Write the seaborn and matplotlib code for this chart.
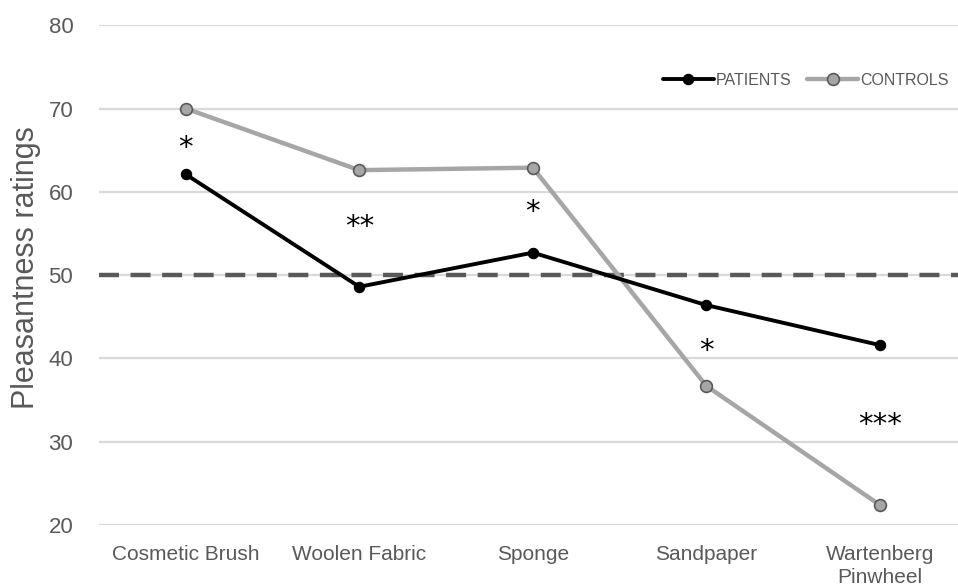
import matplotlib
matplotlib.use("Agg")
import matplotlib.pyplot as plt
import seaborn as sns
import pandas as pd

categories = ["Cosmetic Brush", "Woolen Fabric", "Sponge", "Sandpaper", "Wartenberg\nPinwheel"]
patients = [62.1, 48.6, 52.7, 46.4, 41.6]
controls = [70.0, 62.6, 62.9, 36.7, 22.4]
stars = ["*", "**", "*", "*", "***"]
star_y = [65.2, 55.8, 57.6, 40.9, 32.0]
y_ticks = [20, 30, 40, 50, 60, 70, 80]

sns.set_theme(style="white")
plt.rcParams["font.family"] = ["Liberation Sans", "DejaVu Sans"]

df = pd.DataFrame({
    "stimulus": categories * 2,
    "rating": patients + controls,
    "group": ["PATIENTS"] * len(categories) + ["CONTROLS"] * len(categories),
})

fig = plt.figure(figsize=(9.58, 5.86), dpi=100)
ax = fig.add_axes([0.1033, 0.104, 0.8967, 0.853])

# horizontal gridlines and the neutral reference at 50
for y in y_ticks:
    ax.axhline(y, color="#d9d9d9", lw=1.6, zorder=0)
ax.axhline(50, color="#595959", lw=3.2, dashes=(4.5, 2.6), zorder=1)

sns.lineplot(data=df[df.group == "CONTROLS"], x="stimulus", y="rating", ax=ax,
             color="#a6a6a6", lw=3.2, marker="o", markersize=8.5,
             markerfacecolor="#a6a6a6", markeredgecolor="#595959",
             markeredgewidth=1.2, label="CONTROLS", zorder=3, legend=False)
sns.lineplot(data=df[df.group == "PATIENTS"], x="stimulus", y="rating", ax=ax,
             color="black", lw=2.8, marker="o", markersize=7.5,
             markerfacecolor="black", markeredgecolor="black",
             label="PATIENTS", zorder=4, legend=False)

# significance markers
for i, (s, yv) in enumerate(zip(stars, star_y)):
    ax.text(i, yv, s, ha="center", va="center", fontsize=21, color="black",
            family=["DejaVu Sans"])

ax.set_xlim(-0.5, 4.45)
ax.set_ylim(20, 80)
ax.set_yticks(y_ticks)
ax.set_yticklabels([str(v) for v in y_ticks], fontsize=16, color="#595959")
ax.set_xticks(range(len(categories)))
ax.set_xticklabels(categories, fontsize=15, color="#595959", linespacing=1.3)
ax.tick_params(axis="y", length=0, pad=18.5)
ax.tick_params(axis="x", length=0, pad=14)
ax.set_xlabel("")
ax.set_ylabel("Pleasantness ratings", fontsize=22, color="#595959")
ax.yaxis.label.set_va("center")
ax.yaxis.set_label_coords(-0.085, 0.516)
for sp in ax.spines.values():
    sp.set_visible(False)

handles, labels = ax.get_legend_handles_labels()
order = [labels.index("PATIENTS"), labels.index("CONTROLS")]
leg = ax.legend([handles[k] for k in order], [labels[k] for k in order],
                loc="center right", bbox_to_anchor=(1.0, 0.89), ncol=2,
                frameon=False, fontsize=11.5, handlelength=3.2,
                handletextpad=0.1, columnspacing=1.0, borderaxespad=0.2)
for t in leg.get_texts():
    t.set_color("#595959")

fig.savefig("out.png", dpi=100, facecolor="white")
